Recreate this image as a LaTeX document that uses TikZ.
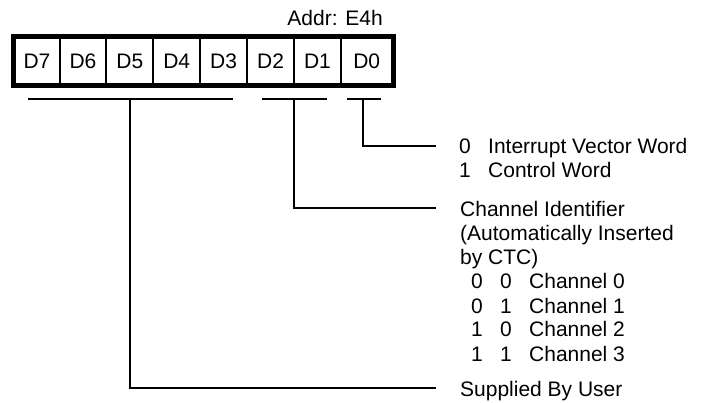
\documentclass[tikz,border=0pt]{standalone}
\usepackage{fontspec}
\setmainfont{Liberation Sans}
\begin{document}
\begin{tikzpicture}[x=1pt,y=-1pt,
  lbl/.style={font=\fontsize{21}{24}\selectfont, inner sep=0pt, anchor=base west},
  cellbox/.style={draw, line width=2pt, minimum height=46.5pt, inner sep=0pt, font=\fontsize{21}{24}\selectfont},
  wire/.style={line width=2.6pt},
  outer/.style={line width=5pt},
]
\useasboundingbox (0,0) rectangle (704,403);
% cells
\node[cellbox, minimum width=45pt]   (c7) at (37,61)    {D7};
\node[cellbox, minimum width=46.9pt] (c6) at (82.95,61) {D6};
\node[cellbox, minimum width=46.9pt] (c5) at (129.85,61) {D5};
\node[cellbox, minimum width=46.9pt] (c4) at (176.75,61) {D4};
\node[cellbox, minimum width=46.9pt] (c3) at (223.65,61) {D3};
\node[cellbox, minimum width=46.9pt] (c2) at (270.55,61) {D2};
\node[cellbox, minimum width=46.9pt] (c1) at (317.45,61) {D1};
\node[cellbox, minimum width=51.6pt] (c0) at (366.7,61)  {D0};
\draw[outer] (c7.north west) rectangle (c0.south east);
\node[lbl, anchor=base east] (addr) at (383,26) {Addr: E4h};
% bracket coordinates
\coordinate (b5l) at (28,99);  \coordinate (b5r) at (233,99); \coordinate (b5m) at (130,99);
\coordinate (b1l) at (262,99); \coordinate (b1r) at (327,99); \coordinate (b1m) at (294,99);
\coordinate (b0l) at (347,99); \coordinate (b0r) at (381,99); \coordinate (b0m) at (363,99);
\coordinate (e0) at (436,146);
\coordinate (e1) at (436,208);
\coordinate (e5) at (436,388);
\draw[wire] (b5l) -- (b5r);
\draw[wire] (b1l) -- (b1r);
\draw[wire] (b0l) -- (b0r);
\draw[wire] (b0m) |- (e0);
\draw[wire] (b1m) |- (e1);
\draw[wire] (b5m) |- (e5);
% texts
\node[lbl] (d0a) at (459,154) {0};
\node[lbl] (d0b) at (488,154) {Interrupt Vector Word};
\node[lbl] (d1a) at (459,178) {1};
\node[lbl] (d1b) at (488,178) {Control Word};
\node[lbl] (ci)  at (460,217) {Channel Identifier};
\node[lbl] (ai)  at (460,241) {(Automatically Inserted};
\node[lbl] (bc)  at (460,265) {by CTC)};
\node[lbl] (r0a) at (471,289) {0};
\node[lbl] (r0b) at (500,289) {0};
\node[lbl] (r0c) at (529,289) {Channel 0};
\node[lbl] (r1a) at (471,313) {0};
\node[lbl] (r1b) at (500,313) {1};
\node[lbl] (r1c) at (529,313) {Channel 1};
\node[lbl] (r2a) at (471,337) {1};
\node[lbl] (r2b) at (500,337) {0};
\node[lbl] (r2c) at (529,337) {Channel 2};
\node[lbl] (r3a) at (471,361) {1};
\node[lbl] (r3b) at (500,361) {1};
\node[lbl] (r3c) at (529,361) {Channel 3};
\node[lbl] (su)  at (460,396) {Supplied By User};
\end{tikzpicture}
\end{document}
